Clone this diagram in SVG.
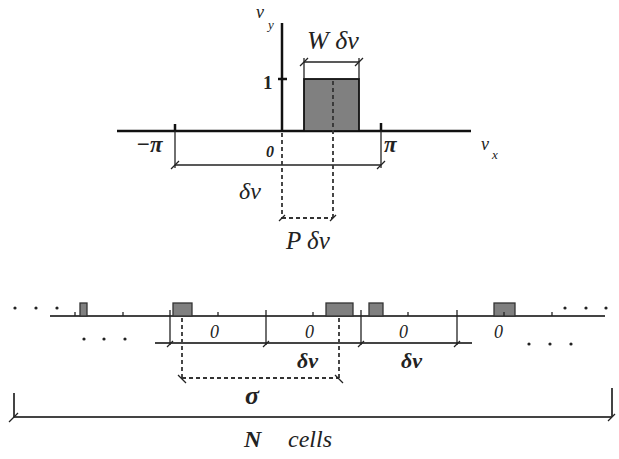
<svg xmlns="http://www.w3.org/2000/svg" width="619" height="459" viewBox="0 0 619 459">
<style>
.ax{stroke:#111;stroke-width:2.5;fill:none}
.ln{stroke:#222;stroke-width:1.3;fill:none}
.bl{stroke:#444;stroke-width:2;fill:none}
.dash{stroke:#333;stroke-width:1.8;stroke-dasharray:4 3;fill:none}
.bar{fill:#808080;stroke:#111;stroke-width:1.8}
.bar2{fill:#808080;stroke:#333;stroke-width:1.3}
.t{font-family:"Liberation Serif",serif;font-style:italic;fill:#222}
.b{font-weight:bold}
.dot{fill:#222}
</style>
<rect width="619" height="459" fill="#fff"/>
<g id="top-plot">
<line class="ax" x1="117" y1="131" x2="471" y2="131"/>
<line class="ax" x1="282" y1="23" x2="282" y2="131"/>
<line class="ax" x1="278" y1="79" x2="287" y2="79"/>
<rect class="bar" x="304" y="79" width="55" height="52"/>
<line class="ax" x1="175" y1="124" x2="175" y2="131"/>
<line class="ax" x1="381" y1="123" x2="381" y2="131"/>
<line class="ln" x1="175" y1="131" x2="175" y2="168"/>
<line class="ln" x1="381" y1="131" x2="381" y2="168"/>
<line class="ln" x1="304" y1="79" x2="304" y2="58"/>
<line class="ln" x1="359" y1="79" x2="359" y2="58"/>
</g>
<g id="connectors">
<line class="ln" x1="175" y1="165" x2="381" y2="165"/>
<line class="ln" x1="171" y1="169" x2="179" y2="161"/>
<line class="ln" x1="377" y1="169" x2="385" y2="161"/>
<line class="ln" x1="304" y1="62" x2="359" y2="62"/>
<line class="ln" x1="300" y1="66" x2="308" y2="58"/>
<line class="ln" x1="355" y1="66" x2="363" y2="58"/>
<line class="dash" x1="333" y1="81" x2="333" y2="218"/>
<line class="dash" x1="282" y1="133" x2="282" y2="218"/>
<line class="dash" x1="282" y1="218" x2="333" y2="218"/>
<line class="ln" x1="279" y1="221" x2="285" y2="215"/>
<line class="ln" x1="330" y1="221" x2="336" y2="215"/>
<line class="dash" x1="182" y1="318" x2="182" y2="378"/>
<line class="dash" x1="339" y1="318" x2="339" y2="378"/>
<line class="dash" x1="182" y1="378" x2="339" y2="378"/>
<line class="ln" x1="178" y1="375" x2="186" y2="383"/>
<line class="ln" x1="335" y1="375" x2="343" y2="383"/>
<line class="bl" x1="14" y1="417" x2="612" y2="417"/>
<line class="bl" x1="14" y1="393" x2="14" y2="417"/>
<line class="bl" x1="612" y1="388" x2="612" y2="417"/>
<line class="ln" x1="9" y1="422" x2="18" y2="413"/>
<line class="ln" x1="608" y1="421" x2="615" y2="414"/>
</g>
<g id="bottom-plot">
<line class="bl" x1="50" y1="316" x2="605" y2="316"/>
<line class="bl" x1="155" y1="343" x2="472" y2="343"/>
<rect class="bar2" x="80" y="303" width="7" height="13"/>
<rect class="bar2" x="173" y="303" width="19" height="13"/>
<rect class="bar2" x="326" y="303" width="27" height="13"/>
<rect class="bar2" x="369" y="303" width="14" height="13"/>
<rect class="bar2" x="494" y="303" width="21" height="13"/>
<g class="ln">
<line x1="75" y1="312" x2="75" y2="316"/>
<line x1="123" y1="312" x2="123" y2="316"/>
<line x1="218" y1="312" x2="218" y2="316"/>
<line x1="313" y1="312" x2="313" y2="316"/>
<line x1="408" y1="312" x2="408" y2="316"/>
<line x1="504" y1="312" x2="504" y2="316"/>
<line x1="552" y1="312" x2="552" y2="316"/>
<line x1="170" y1="310" x2="170" y2="345"/>
<line x1="266" y1="310" x2="266" y2="345"/>
<line x1="361" y1="310" x2="361" y2="345"/>
<line x1="457" y1="310" x2="457" y2="345"/>
<line x1="167" y1="347" x2="173" y2="341"/>
<line x1="263" y1="347" x2="269" y2="341"/>
<line x1="358" y1="347" x2="364" y2="341"/>
<line x1="454" y1="347" x2="460" y2="341"/>
</g>
<g class="dot">
<circle cx="15" cy="308" r="1.6"/><circle cx="36" cy="308" r="1.6"/><circle cx="57" cy="308" r="1.6"/>
<circle cx="565" cy="308" r="1.6"/><circle cx="586" cy="308" r="1.6"/><circle cx="606" cy="308" r="1.6"/>
<circle cx="84" cy="339" r="1.6"/><circle cx="104" cy="339" r="1.6"/><circle cx="125" cy="339" r="1.6"/>
<circle cx="529" cy="344" r="1.6"/><circle cx="550" cy="344" r="1.6"/><circle cx="571" cy="344" r="1.6"/>
</g>
</g>
<g id="labels">
<text class="t" x="256" y="18" font-size="18">v</text>
<text class="t" x="268" y="29" font-size="13">y</text>
<text class="t" x="481" y="150" font-size="18">v</text>
<text class="t" x="492" y="159" font-size="13">x</text>
<text class="t" x="307" y="49" font-size="26">W δν</text>
<text x="263" y="89" font-size="19" font-family="Liberation Serif,serif" font-weight="bold" fill="#222">1</text>
<text class="t b" x="136" y="152" font-size="23">−π</text>
<text class="t b" x="384" y="152" font-size="23">π</text>
<text class="t b" x="266" y="157" font-size="16">0</text>
<text class="t" x="239" y="199" font-size="24">δν</text>
<text class="t" x="286" y="249" font-size="25">P δν</text>
<text class="t" x="210" y="338" font-size="18">0</text>
<text class="t" x="305" y="338" font-size="18">0</text>
<text class="t" x="399" y="338" font-size="18">0</text>
<text class="t" x="494" y="338" font-size="18">0</text>
<text class="t b" x="297" y="368" font-size="22">δν</text>
<text class="t b" x="401" y="368" font-size="22">δν</text>
<text class="t b" x="245" y="404" font-size="26">σ</text>
<text class="t b" x="244" y="447" font-size="24">N</text>
<text class="t" x="288" y="447" font-size="24">cells</text>
</g>
</svg>
